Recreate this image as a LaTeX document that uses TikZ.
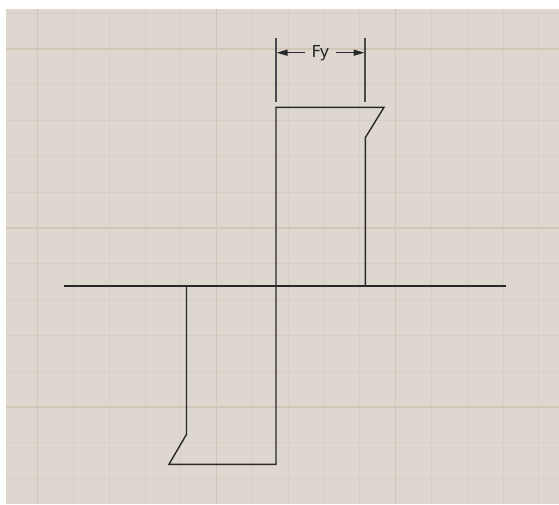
\documentclass[tikz,border=0pt]{standalone}
\usepackage{fontspec}
\setmainfont{DejaVu Sans}
\usetikzlibrary{arrows.meta}
\definecolor{bg}{RGB}{221,215,208}
\definecolor{gridminor}{RGB}{215,207,196}
\definecolor{gridmajor}{RGB}{208,199,185}
\definecolor{ink}{RGB}{40,40,40}
\definecolor{extink}{RGB}{75,75,75}
\begin{document}
\begin{tikzpicture}[x=1pt,y=-1pt,
  minorline/.style={draw=gridminor,line width=1.1pt},
  majorline/.style={draw=gridmajor,line width=1.4pt},
  shapeline/.style={draw=ink,line width=1.4pt,line join=miter},
  extline/.style={draw=extink,line width=1.8pt},
  dimarrow/.style={draw=ink,line width=1.3pt,-{Triangle[length=11pt,width=6pt]}},
  lbl/.style={font=\fontsize{16.5}{19}\selectfont,text=ink,inner sep=0pt,anchor=base}]
\useasboundingbox (0,0) rectangle (559,504);
\fill[white] (0,0) rectangle (559,504);
\fill[bg] (6,9) rectangle (559,504);
% grid
\foreach \k in {0,...,14} \draw[minorline] ({37.7+35.8*\k},9) -- ({37.7+35.8*\k},504);
\foreach \k in {0,...,13} \draw[minorline] (6,{13.2+35.8*\k}) -- (559,{13.2+35.8*\k});
\foreach \k in {0,5,10} \draw[majorline] ({37.7+35.8*\k},9) -- ({37.7+35.8*\k},504);
\foreach \k in {1,6,11} \draw[majorline] (6,{13.2+35.8*\k}) -- (559,{13.2+35.8*\k});
% coordinates
\coordinate (axL) at (64,286);
\coordinate (axR) at (506,286);
\coordinate (o) at (276,286);
\coordinate (u1) at (276,107.3);
\coordinate (u2) at (384,107.3);
\coordinate (u3) at (365.3,137.7);
\coordinate (u4) at (365.3,286);
\coordinate (l1) at (186.5,286);
\coordinate (l2) at (186.5,434.3);
\coordinate (l3) at (169,464.3);
\coordinate (l4) at (276,464.3);
% axis and loop
\draw[shapeline] (axL) -- (axR);
\draw[shapeline] (o) -- (u1) -- (u2) -- (u3) -- (u4);
\draw[shapeline] (l1) -- (l2) -- (l3) -- (l4) -- (o);
% dimension
\coordinate (e1t) at (275.7,38.3);
\coordinate (e1b) at (275.7,101.7);
\coordinate (e2t) at (365.3,38.3);
\coordinate (e2b) at (365.3,101.7);
\draw[extline] (e1t) -- (e1b);
\draw[extline] (e2t) -- (e2b);
\node[lbl] (fy) at (320.5,57.2) {Fy};
\coordinate (a1s) at (305,52.7);
\coordinate (a1e) at (276.5,52.7);
\coordinate (a2s) at (335.5,52.7);
\coordinate (a2e) at (364.5,52.7);
\draw[dimarrow] (a1s) -- (a1e);
\draw[dimarrow] (a2s) -- (a2e);
\end{tikzpicture}
\end{document}
